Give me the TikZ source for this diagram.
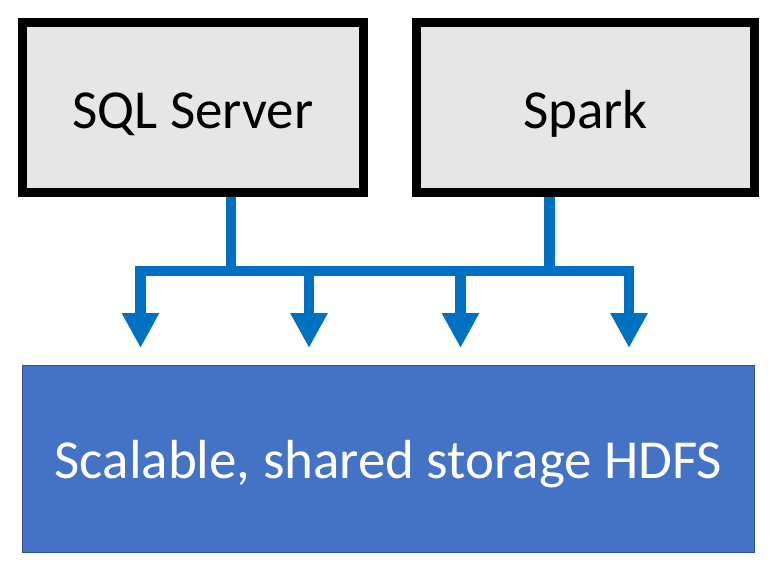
\documentclass[tikz,border=0pt]{standalone}
\usepackage{fontspec}
\setmainfont{Carlito}
\usetikzlibrary{arrows.meta}
\definecolor{flowblue}{HTML}{0070C0}
\definecolor{boxgray}{HTML}{E6E6E6}
\definecolor{hdfsfill}{HTML}{4472C4}
\definecolor{hdfsline}{HTML}{2F528F}
\tikzset{
  engine/.style={draw=black, line width=9pt, fill=boxgray, inner sep=0pt,
    text height=41pt, text depth=0pt, font=\fontsize{55}{62}\selectfont},
  storage/.style={draw=hdfsline, line width=1pt, fill=hdfsfill, inner sep=0pt,
    text=white, text height=38pt, text depth=0pt, font=\fontsize{55}{62}\selectfont},
  flow/.style={draw=flowblue, line width=10.5pt, line join=miter},
  flowarrow/.style={flow, -{Triangle[width=35pt,length=35pt]}},
}
\begin{document}
\begin{tikzpicture}[x=1pt,y=-1pt]
\useasboundingbox (0,0) rectangle (777,568);
\fill[white] (0,0) rectangle (777,568);
\node[engine, minimum width=341pt, minimum height=170pt] (sql) at (193,107.5) {SQL Server};
\node[engine, minimum width=338pt, minimum height=170pt] (spark) at (585.5,107.5) {Spark};
\node[storage, minimum width=732pt, minimum height=187pt] (hdfs) at (388.5,459) {Scalable, shared storage HDFS};
\coordinate (j1) at (231,271);
\coordinate (j2) at (549.5,271);
\coordinate (c1) at (140.5,271);
\coordinate (c2) at (309,271);
\coordinate (c3) at (460.5,271);
\coordinate (c4) at (629,271);
\coordinate (t1) at (140.5,348);
\coordinate (t2) at (309,348);
\coordinate (t3) at (460.5,348);
\coordinate (t4) at (629,348);
\draw[flow] (sql.south -| j1) -- (j1);
\draw[flow] (spark.south -| j2) -- (j2);
\draw[flow, {Triangle[width=35pt,length=35pt]}-{Triangle[width=35pt,length=35pt]}] (t1) -- (c1) -- (c4) -- (t4);
\draw[flowarrow] (c2) -- (t2);
\draw[flowarrow] (c3) -- (t3);
\end{tikzpicture}
\end{document}
